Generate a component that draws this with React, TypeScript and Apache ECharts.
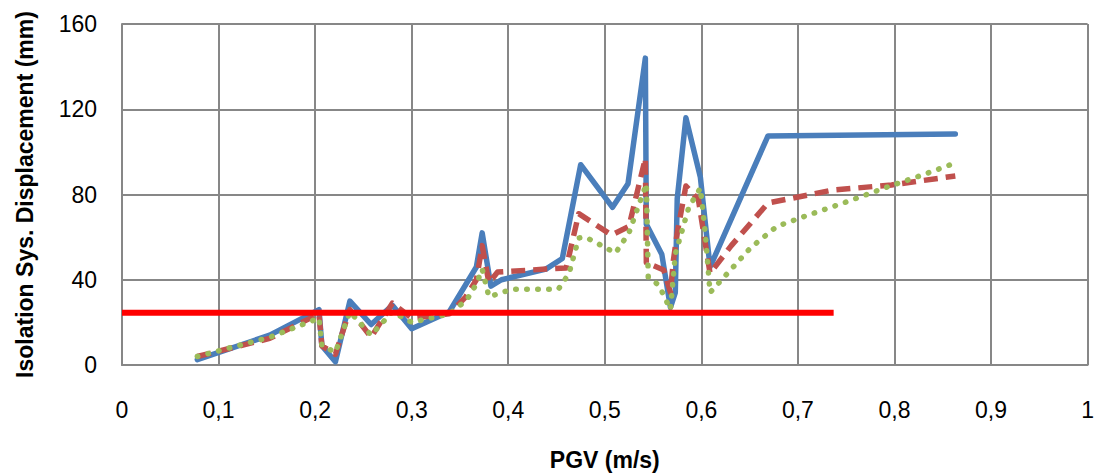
import React, { useEffect, useRef } from "react";
import * as echarts from "echarts";

const xTicks = [0, 0.1, 0.2, 0.3, 0.4, 0.5, 0.6, 0.7, 0.8, 0.9, 1];
const yTicks = [0, 40, 80, 120, 160];

const blueX = [0.078, 0.153, 0.204, 0.207, 0.221, 0.236, 0.258, 0.28, 0.3, 0.339, 0.367, 0.373, 0.382, 0.393, 0.439, 0.456, 0.475, 0.508, 0.524, 0.542, 0.543, 0.559, 0.568, 0.573, 0.575, 0.584, 0.599, 0.609, 0.669, 0.863];
const blueY = [2.5, 14, 26, 9, 1.5, 30, 19, 28, 17, 25, 46, 62, 37, 40, 45, 50, 94, 74, 85, 144, 66, 52, 27, 34, 78, 116, 88, 46, 107.5, 108.4];

const redX = [0.078, 0.153, 0.204, 0.207, 0.221, 0.236, 0.258, 0.28, 0.3, 0.339, 0.356, 0.367, 0.373, 0.38, 0.389, 0.439, 0.46, 0.473, 0.507, 0.525, 0.542, 0.543, 0.561, 0.568, 0.571, 0.575, 0.584, 0.597, 0.609, 0.631, 0.669, 0.735, 0.797, 0.863];
const redY = [4, 12.5, 24, 9, 5, 26, 13, 29, 22, 24, 32, 40, 56, 38.5, 43.6, 45, 45.5, 71, 61, 65, 97, 48, 44.6, 34, 49, 62, 84, 77.4, 43, 56, 76, 82, 84.5, 88.7];

const greenX = [0.078, 0.153, 0.204, 0.207, 0.221, 0.236, 0.258, 0.28, 0.3, 0.339, 0.357, 0.367, 0.373, 0.38, 0.404, 0.452, 0.463, 0.473, 0.48, 0.501, 0.511, 0.525, 0.537, 0.543, 0.545, 0.556, 0.568, 0.573, 0.587, 0.599, 0.604, 0.609, 0.625, 0.651, 0.678, 0.711, 0.747, 0.793, 0.828, 0.863];
const greenY = [4, 13, 22, 9, 6, 25, 14, 25, 20, 24, 30.5, 38, 45, 32, 35.6, 35.6, 43, 59.6, 60, 55, 52.5, 62, 77.4, 85, 41, 37.5, 26, 52, 74, 83, 62, 34, 42, 55, 65, 70.4, 76, 83.6, 89, 94.8];

const limitX = [0, 0.737];
const limitY = [24.5, 24.5];

const zip = (xs: number[], ys: number[]) => xs.map((x, i) => [x, ys[i]]);

export default function App() {
  const ref = useRef<HTMLDivElement>(null);
  useEffect(() => {
    document.body.style.margin = "0";
    const chart = echarts.init(ref.current!, null, { renderer: "svg" });
    const font = "Liberation Sans";
    chart.setOption({
      animation: false,
      backgroundColor: "#ffffff",
      grid: { left: 122, right: 7, top: 24, bottom: 111 },
      xAxis: {
        type: "value",
        min: xTicks[0],
        max: xTicks[xTicks.length - 1],
        interval: 0.1,
        name: "PGV (m/s)",
        nameLocation: "middle",
        nameGap: 83,
        nameTextStyle: { fontFamily: font, fontWeight: "bold", fontSize: 23, color: "#000" },
        axisLine: { show: true, lineStyle: { color: "#878787", width: 2 } },
        axisTick: { show: false },
        splitLine: { show: true, lineStyle: { color: "#878787", width: 2 } },
        axisLabel: {
          margin: 33,
          fontFamily: font,
          fontSize: 23,
          color: "#000",
          formatter: (v: number) => String(Math.round(v * 10) / 10).replace(".", ","),
        },
      },
      yAxis: {
        type: "value",
        min: yTicks[0],
        max: yTicks[yTicks.length - 1],
        interval: 40,
        name: "Isolation Sys. Displacement (mm)",
        nameLocation: "middle",
        nameGap: 86,
        nameTextStyle: { fontFamily: font, fontWeight: "bold", fontSize: 23, color: "#000" },
        axisLine: { show: true, lineStyle: { color: "#878787", width: 2 } },
        axisTick: { show: false },
        splitLine: { show: true, lineStyle: { color: "#878787", width: 2 } },
        axisLabel: { margin: 25, fontFamily: font, fontSize: 23, color: "#000" },
      },
      series: [
        {
          type: "line",
          data: zip(blueX, blueY),
          showSymbol: false,
          lineStyle: { color: "#4a7ebb", width: 5.5, join: "round", cap: "round" },
        },
        {
          type: "line",
          data: zip(redX, redY),
          showSymbol: false,
          lineStyle: { color: "#c0504d", width: 5.5, type: [14, 8], join: "round" },
        },
        {
          type: "line",
          data: zip(greenX, greenY),
          showSymbol: false,
          lineStyle: { color: "#9bbb59", width: 5.5, type: [0.5, 10.5], cap: "round", join: "round" },
        },
        {
          type: "line",
          data: zip(limitX, limitY),
          showSymbol: false,
          lineStyle: { color: "#ff0000", width: 6 },
        },
      ],
    });
    return () => chart.dispose();
  }, []);
  return <div ref={ref} style={{ width: 1097, height: 476 }} />;
}
